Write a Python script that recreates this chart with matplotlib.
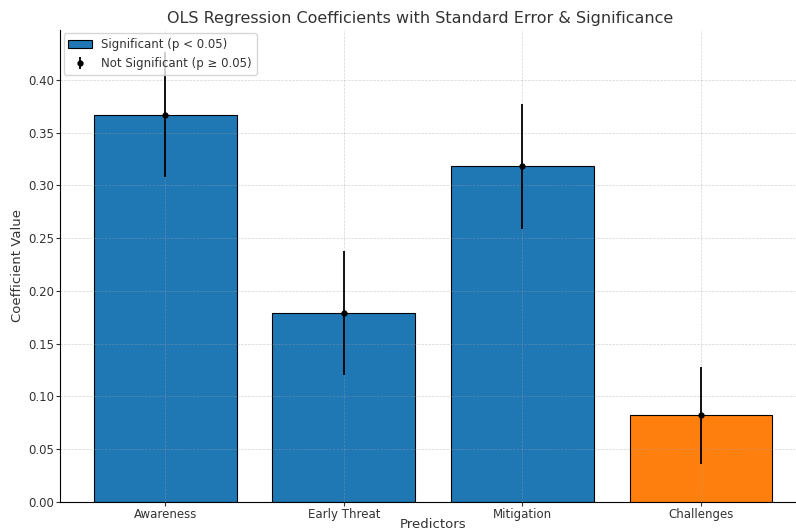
import matplotlib
matplotlib.use('Agg')
import matplotlib.pyplot as plt

# Regression output
predictors = ['Awareness', 'Early Threat', 'Mitigation', 'Challenges']
coefficients = [0.367, 0.179, 0.318, 0.082]
std_errors = [0.059, 0.059, 0.059, 0.046]
significant = [True, True, True, False]

text_color = '#333333'
plt.rcParams['text.color'] = text_color
plt.rcParams['axes.labelcolor'] = text_color
plt.rcParams['xtick.color'] = text_color
plt.rcParams['ytick.color'] = text_color

fig = plt.figure(figsize=(7.96, 5.31), dpi=100)
ax = fig.add_axes([0.0754, 0.0546, 0.9375, 0.889])

colors = ['#1f77b4' if s else '#ff7f0e' for s in significant]
ax.bar(predictors, coefficients, color=colors, edgecolor='black', linewidth=0.8,
       label='Significant (p < 0.05)')
ax.errorbar(predictors, coefficients, yerr=std_errors, fmt='o', color='black',
            markersize=3.5, elinewidth=1.3, label='Not Significant (p \u2265 0.05)')

ax.set_title('OLS Regression Coefficients with Standard Error & Significance',
             fontsize=11.5, pad=5, x=0.482)
ax.set_xlabel('Predictors', fontsize=9.5, labelpad=-2.5)
ax.set_ylabel('Coefficient Value', fontsize=9.5, labelpad=3)
ax.tick_params(labelsize=8.5, length=3, pad=1.5)
ax.grid(linestyle='--', linewidth=0.5, color='#a0a0a0', alpha=0.45)
ax.spines['top'].set_visible(False)
ax.spines['right'].set_visible(False)
ax.legend(loc='upper left', fontsize=8.5, borderaxespad=0.3)

fig.savefig('out.png', dpi=100)
